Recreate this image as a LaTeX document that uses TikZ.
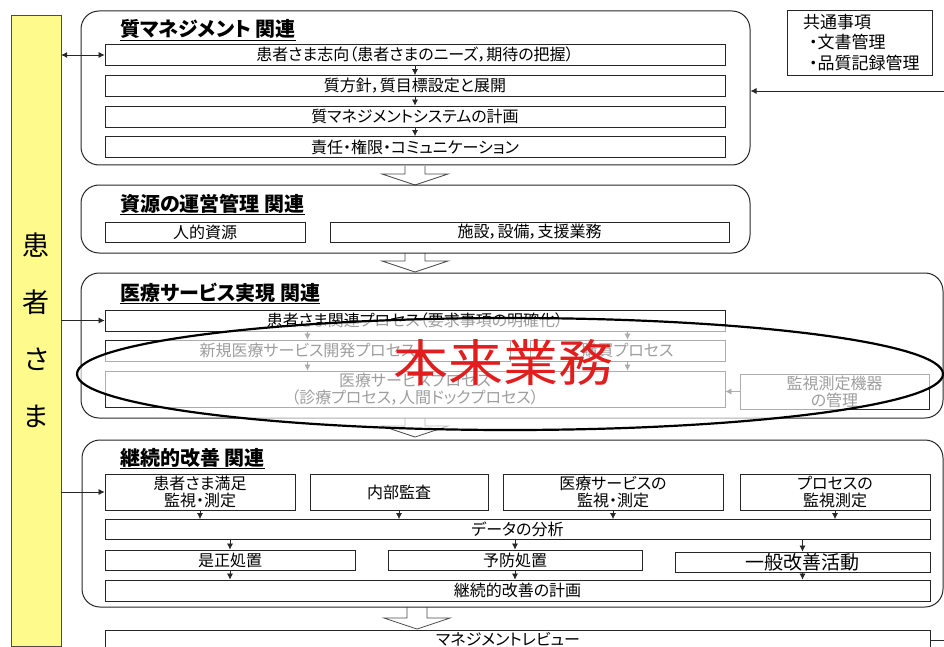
\documentclass[tikz,border=0pt]{standalone}
\usepackage{fontspec}
\setmainfont{Noto Sans CJK JP}[RawFeature=+palt]
\usetikzlibrary{shapes.geometric,arrows.meta}
\definecolor{pbar}{RGB}{255,250,140}
\definecolor{hred}{RGB}{225,30,30}
\begin{document}
\begin{tikzpicture}[x=1pt,y=-1pt,
  lc/.style={draw=black!85},
  frame/.style={lc, line width=1pt, rounded corners=18pt, inner sep=0pt},
  rowbox/.style={lc, line width=0.8pt, inner sep=0pt, align=center, font=\fontsize{16}{17}\selectfont},
  ttl/.style={anchor=base west, inner sep=0pt, font=\fontsize{20}{22}\selectfont\bfseries},
  flow/.style={-{Latex[length=6pt,width=6pt]}, line width=0.7pt, black!85},
  pics/hollow/.style={code={\draw[draw=black!70, fill=white, line width=0.8pt]
     (-10,-#1) -- (-10,-11) -- (-33,-11) -- (0,0) -- (33,-11) -- (10,-11) -- (10,-#1);}},
  pics/hollow/.default=19
]
\useasboundingbox (0,0) rectangle (944,647);

% patient bar
\node[draw=black!70, fill=pbar, minimum width=50pt, minimum height=631pt, inner sep=0pt,
      align=center, font=\fontsize{27}{57}\selectfont] (pt) at (36,330.5) {患\\者\\さ\\ま};

% common items
\node[lc, line width=0.8pt, minimum height=65pt, text width=113pt, inner xsep=16pt, align=left,
      font=\fontsize{17}{20.5}\selectfont] (kt) at (859.5,42.5)
  {共通事項\\\hspace*{6pt}・文書管理\\\hspace*{6pt}・品質記録管理};

% hollow arrows
\pic at (415,185) {hollow};
\pic at (415,272) {hollow};
\pic at (415,437) {hollow};
\pic at (417,629) {hollow=22};

% group 1
\node[frame, minimum width=669pt, minimum height=154pt] (g1) at (415.5,88) {};
\node[ttl] (t1) at (120,37) {\underline{質マネジメント 関連}};
\node[rowbox, minimum width=620pt, minimum height=21pt] (q1) at (415,55) {患者さま志向（患者さまのニーズ，期待の把握）};
\node[rowbox, minimum width=620pt, minimum height=21pt] (q2) at (415,86) {質方針，質目標設定と展開};
\node[rowbox, minimum width=620pt, minimum height=21pt] (q3) at (415,116.5) {質マネジメントシステムの計画};
\node[rowbox, minimum width=620pt, minimum height=21pt] (q4) at (415,147) {責任・権限・コミュニケーション};
\draw[flow] (q1) -- (q2);
\draw[flow] (q2) -- (q3);
\draw[flow] (q3) -- (q4);

% group 2
\node[frame, minimum width=669pt, minimum height=68pt] (g2) at (415.5,219) {};
\node[ttl] (t2) at (120,211) {\underline{資源の運営管理 関連}};
\node[rowbox, minimum width=200pt, minimum height=20pt] (r1) at (205,232) {人的資源};
\node[rowbox, minimum width=399pt, minimum height=20pt] (r2) at (529.5,232) {施設，設備，支援業務};

% group 3
\node[frame, minimum width=862pt, minimum height=145pt] (g3) at (512,345.5) {};
\node[ttl] (t3) at (120,300) {\underline{医療サービス実現 関連}};
\node[rowbox, minimum width=620pt, minimum height=21pt] (s1) at (415,320.5) {患者さま関連プロセス（要求事項の明確化）};
\node[rowbox, minimum width=405pt, minimum height=21pt] (s2a) at (307.5,350.5) {新規医療サービス開発プロセス};
\node[rowbox, minimum width=195pt, minimum height=21pt] (s2b) at (627.5,350.5) {購買プロセス};
\node[rowbox, minimum width=620pt, minimum height=36pt] (s3) at (415,389) {医療サービスプロセス\\（診療プロセス，人間ドックプロセス）};
\node[rowbox, minimum width=189pt, minimum height=35pt] (s4) at (834.5,391.5) {監視測定機器\\の管理};
\draw[flow] (s1.south -| s2a.north) -- (s2a.north);
\draw[flow] (s1.south -| s2b.north) -- (s2b.north);
\draw[flow] (s2a.south) -- (s2a.south |- s3.north);
\draw[flow] (s2b.south) -- (s2b.south |- s3.north);
\draw[flow] (s4.west) -- (s4.west -| s3.east);

% group 4
\node[frame, minimum width=861pt, minimum height=167pt] (g4) at (512.5,523.5) {};
\node[ttl] (t4) at (120,465) {\underline{継続的改善 関連}};
\node[rowbox, minimum width=190pt, minimum height=36pt] (u1) at (200,492) {患者さま満足\\監視・測定};
\node[rowbox, minimum width=178pt, minimum height=36pt] (u2) at (399,492) {内部監査};
\node[rowbox, minimum width=220pt, minimum height=36pt] (u3) at (613,492) {医療サービスの\\監視・測定};
\node[rowbox, minimum width=190pt, minimum height=36pt] (u4) at (835,492) {プロセスの\\監視測定};
\node[rowbox, minimum width=825pt, minimum height=20pt] (d) at (517.5,529.5) {データの分析};
\node[rowbox, minimum width=250pt, minimum height=20pt] (c1) at (230,560) {是正処置};
\node[rowbox, minimum width=254pt, minimum height=20pt] (c2) at (515,560) {予防処置};
\node[rowbox, minimum width=255pt, minimum height=20pt, font=\fontsize{19}{21}\selectfont] (c3) at (802.5,562) {一般改善活動};
\node[rowbox, minimum width=825pt, minimum height=21pt] (p) at (517.5,590.5) {継続的改善の計画};
\foreach \u in {u1,u2,u3,u4} \draw[flow] (\u.south) -- (\u.south |- d.north);
\foreach \c in {c1,c2,c3} {
  \draw[flow] (d.south -| \c.north) -- (\c.north);
  \draw[flow] (\c.south) -- (\c.south |- p.north);
}

% management review
\node[rowbox, minimum width=825pt, minimum height=30pt, anchor=north] (m) at (517.5,630) {};
\node[anchor=north, inner sep=0pt, font=\fontsize{16}{17}\selectfont] (mt) at (508,632) {マネジメントレビュー};

% connectors from patient bar and right side
\draw[{Latex[length=6pt,width=6pt]}-{Latex[length=6pt,width=6pt]}, line width=0.7pt, black!85] (pt.east |- q1) -- (q1.west);
\draw[flow] (pt.east |- s1) -- (s1.west);
\draw[flow] (pt.east |- u1) -- (u1.west);
\coordinate (rt) at (944,91);
\draw[flow] (rt) -- (rt -| g1.east);
\coordinate (rb) at (944,640);
\draw[line width=0.8pt, black!85] (rb -| m.east) -- (rb);

% ellipse overlay
\node[draw, ellipse, line width=2.2pt, fill=white, fill opacity=0.62, draw opacity=1,
      minimum width=866pt, minimum height=112pt, inner sep=0pt] (el) at (510,374) {};
\node[text=hred, inner sep=0pt, xscale=1.1, font=\fontsize{50}{52}\selectfont] (hon) at (503,362) {本来業務};
\end{tikzpicture}
\end{document}
